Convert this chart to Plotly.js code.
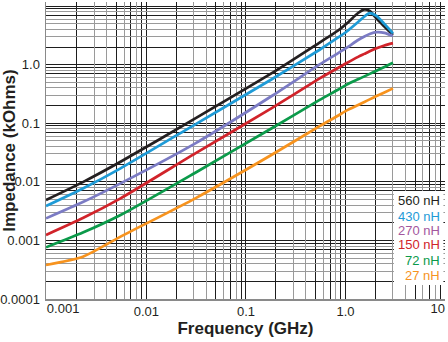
<!DOCTYPE html>
<html><head><meta charset="utf-8">
<script src="https://cdn.plot.ly/plotly-3.0.1.min.js"></script>
<style>html,body{margin:0;padding:0;background:#fff}</style>
</head><body>
<div id="chart" style="width:448px;height:342px"></div>
<script>
// ---- data ----
const freqGHz = [0.00098, 0.0023, 0.0055, 0.031, 0.18, 0.55, 0.83, 1.03, 1.34, 1.55, 1.75, 2.05, 2.46, 3.0];
const z560 = [0.0049, 0.0099, 0.022, 0.121, 0.708, 2.39, 3.76, 5.05, 7.62, 8.78, 8.25, 6.14, 4.49, 3.21];
const z430 = [0.00386, 0.0077, 0.017, 0.096, 0.558, 1.8, 2.86, 3.69, 5.36, 6.65, 7.57, 6.78, 4.96, 3.43];
const z270 = [0.00238, 0.00452, 0.00942, 0.0454, 0.289, 1.01, 1.55, 1.95, 2.64, 3.03, 3.34, 3.59, 3.5, 3.08];
const z150 = [0.00124, 0.00241, 0.00523, 0.0306, 0.179, 0.582, 0.869, 1.07, 1.36, 1.53, 1.69, 1.9, 2.13, 2.33];
const z72  = [0.000762, 0.00136, 0.00271, 0.0143, 0.0815, 0.25, 0.369, 0.457, 0.563, 0.631, 0.696, 0.79, 0.914, 1.08];
const z27  = [0.00038, 0.000527, 0.00116, 0.00523, 0.0287, 0.0895, 0.133, 0.166, 0.205, 0.231, 0.256, 0.291, 0.336, 0.394];
const seriesNames = ['560 nH', '430 nH', '270 nH', '150 nH', '72 nH', '27 nH'];
const xTickVals = [0.001, 0.01, 0.1, 1, 10];
const xTickText = ['0.001', '0.01', '0.1', '1.0', '10'];
const yTickVals = [0.0001, 0.001, 0.01, 0.1, 1, 10];
const yTickText = ['0.0001', '0.001', '0.01', '0.1', '1.0', '10'];

// ---- styling ----
const series = [z560, z430, z270, z150, z72, z27];
const lineColors = ['#231f20', '#1e9bd7', '#7b7bc4', '#d1232a', '#0b9a4a', '#f7931e'];
const textColors = ['#231f20', '#1e9bd7', '#a3569e', '#d1232a', '#0b9a4a', '#f7931e'];
const FONT = 'Liberation Sans, Arial, Helvetica, sans-serif';
const BLACK = '#1e1e1e', GRAY = '#9a9a9a';

function gridVals(decades, mults) {
  const out = [];
  decades.forEach(d => mults.forEach(m => out.push(+(d * m).toPrecision(3))));
  return out;
}
const xDec = [0.001, 0.01, 0.1, 1];
const yDec = [0.0001, 0.001, 0.01, 0.1, 1];
const xBlack = gridVals(xDec, [1, 2, 5, 7, 9]).concat([10]);
const xGray = gridVals(xDec, [3, 4, 6, 8]);
const yBlack = gridVals(yDec, [1, 2, 7, 9]).concat([10]);
const yGray = gridVals(yDec, [3, 4, 5, 6, 8]);

function labelsFor(vals, tv, tt) {
  return vals.map(v => { const i = tv.findIndex(t => Math.abs(t - v) / t < 1e-6); return i >= 0 ? tt[i] : ''; });
}
const midX = [xTickVals[1], xTickVals[2], xTickVals[3]];
const midXText = [xTickText[1], xTickText[2], xTickText[3]];

const traces = [];
series.forEach((z, i) => traces.push({
  x: freqGHz, y: z, type: 'scatter', mode: 'lines', name: seriesNames[i],
  line: {color: lineColors[i], width: 2.7, shape: 'spline', smoothing: 0.6},
  showlegend: false, hoverinfo: 'skip'
}));
['x2', 'x3', 'x4'].forEach(ax => traces.push({x: [], y: [], xaxis: ax, yaxis: 'y', showlegend: false}));
traces.push({x: [], y: [], xaxis: 'x', yaxis: 'y2', showlegend: false});

const xr = [Math.log10(0.00098), 1];
const yr = [-4, 1.07];
const tickFont = {family: FONT, size: 13, color: '#231f20'};
const titleFont = {family: FONT, size: 17, color: '#231f20', weight: 700};

const layout = {
  width: 448, height: 342,
  margin: {l: 46, r: 3, t: 2, b: 43},
  paper_bgcolor: '#fff', plot_bgcolor: '#fff',
  showlegend: false,
  xaxis: {
    type: 'log', range: xr, tickmode: 'array', tickvals: xBlack,
    ticktext: labelsFor(xBlack, midX, midXText),
    showgrid: true, gridcolor: BLACK, gridwidth: 1, ticks: '', zeroline: false,
    showline: true, linecolor: '#8a8a8a', linewidth: 1.5,
    tickfont: tickFont, automargin: false,
    title: {text: 'Frequency (GHz)', font: titleFont, standoff: 1}
  },
  xaxis2: {type: 'log', range: xr, overlaying: 'x', anchor: 'y', tickmode: 'array', tickvals: xGray,
    showticklabels: false, showgrid: true, gridcolor: GRAY, gridwidth: 1, ticks: '', zeroline: false, showline: false},
  xaxis3: {type: 'log', range: xr, overlaying: 'x', anchor: 'y', tickmode: 'array', tickvals: [xTickVals[0]],
    ticktext: [xTickText[0]], ticklabelposition: 'outside right', showgrid: false, ticks: '', zeroline: false,
    showline: false, tickfont: tickFont},
  xaxis4: {type: 'log', range: xr, overlaying: 'x', anchor: 'y', tickmode: 'array', tickvals: [xTickVals[4]],
    ticktext: [xTickText[4]], ticklabelposition: 'outside left', showgrid: false, ticks: '', zeroline: false,
    showline: false, tickfont: tickFont},
  yaxis: {
    type: 'log', range: yr, tickmode: 'array', tickvals: yBlack,
    ticktext: labelsFor(yBlack, yTickVals, yTickText),
    showgrid: true, gridcolor: BLACK, gridwidth: 1, ticks: '', zeroline: false,
    showline: true, linecolor: '#8a8a8a', linewidth: 1.5,
    tickfont: tickFont, automargin: false, ticklabelstandoff: 2,
    title: {text: 'Impedance (kOhms)', font: titleFont, standoff: 4}
  },
  yaxis2: {type: 'log', range: yr, overlaying: 'y', anchor: 'x', tickmode: 'array', tickvals: yGray,
    showticklabels: false, showgrid: true, gridcolor: GRAY, gridwidth: 1, ticks: '', zeroline: false, showline: false},
  shapes: [{type: 'rect', xref: 'paper', yref: 'paper', x0: 0.872, x1: 0.996, y0: 0.047, y1: 0.364,
    fillcolor: '#fff', line: {width: 0}, layer: 'above'}],
  annotations: seriesNames.map((n, i) => ({
    xref: 'paper', yref: 'paper', x: 0.993, y: [0.330, 0.279, 0.229, 0.182, 0.131, 0.079][i],
    xanchor: 'right', yanchor: 'middle', showarrow: false, text: n,
    font: {family: FONT, size: 13, color: textColors[i]}
  }))
};

Plotly.newPlot('chart', traces, layout, {displayModeBar: false, staticPlot: true});
</script>
</body></html>
